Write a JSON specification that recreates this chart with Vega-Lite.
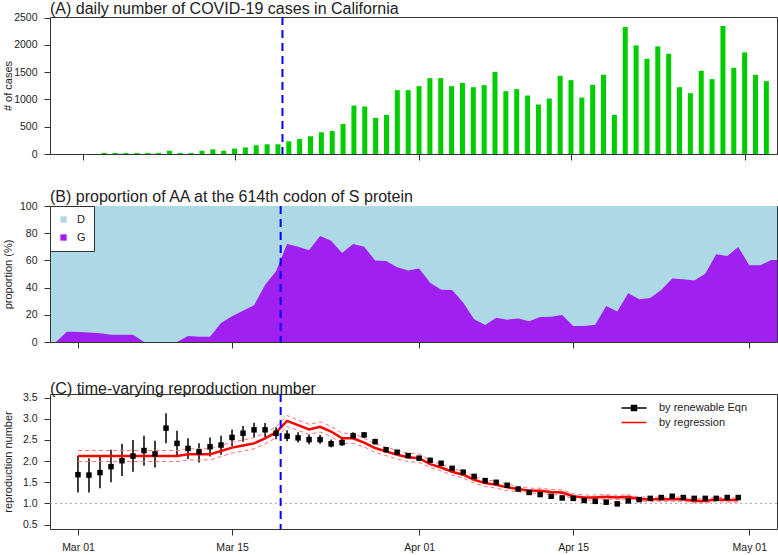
{
  "$schema": "https://vega.github.io/schema/vega-lite/v6.json",
  "padding": {"left": 1, "top": 0, "right": 1, "bottom": 2},
  "config": {
    "font": "Liberation Sans",
    "view": {"stroke": "#333", "strokeWidth": 1},
    "axis": {"domain": false, "grid": false, "tickColor": "#333", "tickSize": 6, "tickWidth": 1, "labelOverlap": false,
      "labelFont": "Liberation Sans", "labelFontSize": 10.5, "labelColor": "#222",
      "titleFont": "Liberation Sans", "titleFontSize": 11, "titleFontWeight": "normal", "titleColor": "#222"},
    "axisQuantitative": {"labelOverlap": false},
    "axisY": {"minExtent": 33, "maxExtent": 33, "titlePadding": 4, "labelPadding": 7, "labelOverlap": false},
    "axisX": {"labelPadding": 7},
    "title": {"font": "Liberation Sans", "fontSize": 16, "fontWeight": "normal", "anchor": "start", "frame": "group", "color": "#222", "offset": -4, "baseline": "alphabetic"}
  },
  "datasets": {
    "marker": [{"date": "2020-03-19T10:00:00Z"}],
    "cases": [
      {"date": "2020-03-03", "cases": 20}, {"date": "2020-03-04", "cases": 20}, {"date": "2020-03-05", "cases": 20},
      {"date": "2020-03-06", "cases": 20}, {"date": "2020-03-07", "cases": 20}, {"date": "2020-03-08", "cases": 20},
      {"date": "2020-03-09", "cases": 60}, {"date": "2020-03-10", "cases": 20}, {"date": "2020-03-11", "cases": 20},
      {"date": "2020-03-12", "cases": 60}, {"date": "2020-03-13", "cases": 85}, {"date": "2020-03-14", "cases": 60},
      {"date": "2020-03-15", "cases": 100}, {"date": "2020-03-16", "cases": 120}, {"date": "2020-03-17", "cases": 160},
      {"date": "2020-03-18", "cases": 178}, {"date": "2020-03-19", "cases": 178}, {"date": "2020-03-20", "cases": 233},
      {"date": "2020-03-21", "cases": 276}, {"date": "2020-03-22", "cases": 325}, {"date": "2020-03-23", "cases": 398},
      {"date": "2020-03-24", "cases": 423}, {"date": "2020-03-25", "cases": 551}, {"date": "2020-03-26", "cases": 888},
      {"date": "2020-03-27", "cases": 870}, {"date": "2020-03-28", "cases": 662}, {"date": "2020-03-29", "cases": 717},
      {"date": "2020-03-30", "cases": 1170}, {"date": "2020-03-31", "cases": 1170}, {"date": "2020-04-01", "cases": 1244},
      {"date": "2020-04-02", "cases": 1391}, {"date": "2020-04-03", "cases": 1391}, {"date": "2020-04-04", "cases": 1244},
      {"date": "2020-04-05", "cases": 1305}, {"date": "2020-04-06", "cases": 1225}, {"date": "2020-04-07", "cases": 1262},
      {"date": "2020-04-08", "cases": 1507}, {"date": "2020-04-09", "cases": 1152}, {"date": "2020-04-10", "cases": 1189},
      {"date": "2020-04-11", "cases": 1072}, {"date": "2020-04-12", "cases": 907}, {"date": "2020-04-13", "cases": 1017},
      {"date": "2020-04-14", "cases": 1434}, {"date": "2020-04-15", "cases": 1354}, {"date": "2020-04-16", "cases": 1035},
      {"date": "2020-04-17", "cases": 1268}, {"date": "2020-04-18", "cases": 1452}, {"date": "2020-04-19", "cases": 717},
      {"date": "2020-04-20", "cases": 2328}, {"date": "2020-04-21", "cases": 1991}, {"date": "2020-04-22", "cases": 1746},
      {"date": "2020-04-23", "cases": 1973}, {"date": "2020-04-24", "cases": 1838}, {"date": "2020-04-25", "cases": 1225},
      {"date": "2020-04-26", "cases": 1115}, {"date": "2020-04-27", "cases": 1526}, {"date": "2020-04-28", "cases": 1372},
      {"date": "2020-04-29", "cases": 2347}, {"date": "2020-04-30", "cases": 1581}, {"date": "2020-05-01", "cases": 1863},
      {"date": "2020-05-02", "cases": 1452}, {"date": "2020-05-03", "cases": 1336}
    ],
    "prop": [
      {"date": "2020-02-28", "G": 0, "D": 100}, {"date": "2020-02-29", "G": 7.6, "D": 92.4}, {"date": "2020-03-01", "G": 7.4, "D": 92.6},
      {"date": "2020-03-02", "G": 6.9, "D": 93.1}, {"date": "2020-03-03", "G": 6.5, "D": 93.5}, {"date": "2020-03-04", "G": 5.4, "D": 94.6},
      {"date": "2020-03-05", "G": 5.4, "D": 94.6}, {"date": "2020-03-06", "G": 5.4, "D": 94.6}, {"date": "2020-03-07", "G": 0, "D": 100},
      {"date": "2020-03-08", "G": 0, "D": 100}, {"date": "2020-03-09", "G": 0, "D": 100}, {"date": "2020-03-10", "G": 0, "D": 100},
      {"date": "2020-03-11", "G": 4.4, "D": 95.6}, {"date": "2020-03-12", "G": 3.8, "D": 96.2}, {"date": "2020-03-13", "G": 3.8, "D": 96.2},
      {"date": "2020-03-14", "G": 14, "D": 86}, {"date": "2020-03-15", "G": 19, "D": 81}, {"date": "2020-03-16", "G": 23, "D": 77},
      {"date": "2020-03-17", "G": 27, "D": 73}, {"date": "2020-03-18", "G": 42, "D": 58}, {"date": "2020-03-19", "G": 52, "D": 48},
      {"date": "2020-03-20", "G": 72, "D": 28}, {"date": "2020-03-21", "G": 70, "D": 30}, {"date": "2020-03-22", "G": 67.5, "D": 32.5},
      {"date": "2020-03-23", "G": 78, "D": 22}, {"date": "2020-03-24", "G": 74.5, "D": 25.5}, {"date": "2020-03-25", "G": 65.5, "D": 34.5},
      {"date": "2020-03-26", "G": 72, "D": 28}, {"date": "2020-03-27", "G": 70, "D": 30}, {"date": "2020-03-28", "G": 60, "D": 40},
      {"date": "2020-03-29", "G": 59.5, "D": 40.5}, {"date": "2020-03-30", "G": 55, "D": 45}, {"date": "2020-03-31", "G": 52.5, "D": 47.5},
      {"date": "2020-04-01", "G": 54, "D": 46}, {"date": "2020-04-02", "G": 43.5, "D": 56.5}, {"date": "2020-04-03", "G": 38.5, "D": 61.5},
      {"date": "2020-04-04", "G": 38.2, "D": 61.8}, {"date": "2020-04-05", "G": 29, "D": 71}, {"date": "2020-04-06", "G": 16.7, "D": 83.3},
      {"date": "2020-04-07", "G": 12.5, "D": 87.5}, {"date": "2020-04-08", "G": 17.9, "D": 82.1}, {"date": "2020-04-09", "G": 16.4, "D": 83.6},
      {"date": "2020-04-10", "G": 17.2, "D": 82.8}, {"date": "2020-04-11", "G": 15.2, "D": 84.8}, {"date": "2020-04-12", "G": 18.4, "D": 81.6},
      {"date": "2020-04-13", "G": 18.6, "D": 81.4}, {"date": "2020-04-14", "G": 19.9, "D": 80.1}, {"date": "2020-04-15", "G": 11.8, "D": 88.2},
      {"date": "2020-04-16", "G": 11.8, "D": 88.2}, {"date": "2020-04-17", "G": 12.7, "D": 87.3}, {"date": "2020-04-18", "G": 26.5, "D": 73.5},
      {"date": "2020-04-19", "G": 22.5, "D": 77.5}, {"date": "2020-04-20", "G": 35.8, "D": 64.2}, {"date": "2020-04-21", "G": 31.4, "D": 68.6},
      {"date": "2020-04-22", "G": 32.4, "D": 67.6}, {"date": "2020-04-23", "G": 38.2, "D": 61.8}, {"date": "2020-04-24", "G": 46.6, "D": 53.4},
      {"date": "2020-04-25", "G": 46.1, "D": 53.9}, {"date": "2020-04-26", "G": 45.3, "D": 54.7}, {"date": "2020-04-27", "G": 50.2, "D": 49.8},
      {"date": "2020-04-28", "G": 64.5, "D": 35.5}, {"date": "2020-04-29", "G": 63.2, "D": 36.8}, {"date": "2020-04-30", "G": 69.9, "D": 30.1},
      {"date": "2020-05-01", "G": 56.4, "D": 43.6}, {"date": "2020-05-02", "G": 56.4, "D": 43.6}, {"date": "2020-05-03", "G": 60.3, "D": 39.7},
      {"date": "2020-05-04", "G": 60.3, "D": 39.7}
    ],
    "rt": [
      {"date": "2020-03-01", "rt": 1.68, "rtlo": 1.26, "rthi": 2.12, "fit": 2.12, "fitlo": 1.99, "fithi": 2.25},
      {"date": "2020-03-02", "rt": 1.67, "rtlo": 1.26, "rthi": 2.07, "fit": 2.12, "fitlo": 1.99, "fithi": 2.25},
      {"date": "2020-03-03", "rt": 1.73, "rtlo": 1.36, "rthi": 2.10, "fit": 2.12, "fitlo": 1.99, "fithi": 2.25},
      {"date": "2020-03-04", "rt": 1.87, "rtlo": 1.50, "rthi": 2.27, "fit": 2.12, "fitlo": 1.99, "fithi": 2.25},
      {"date": "2020-03-05", "rt": 2.01, "rtlo": 1.65, "rthi": 2.41, "fit": 2.12, "fitlo": 1.99, "fithi": 2.25},
      {"date": "2020-03-06", "rt": 2.12, "rtlo": 1.75, "rthi": 2.50, "fit": 2.12, "fitlo": 1.99, "fithi": 2.25},
      {"date": "2020-03-07", "rt": 2.25, "rtlo": 1.89, "rthi": 2.60, "fit": 2.12, "fitlo": 1.99, "fithi": 2.25},
      {"date": "2020-03-08", "rt": 2.17, "rtlo": 1.85, "rthi": 2.48, "fit": 2.12, "fitlo": 1.99, "fithi": 2.25},
      {"date": "2020-03-09", "rt": 2.78, "rtlo": 2.42, "rthi": 3.13, "fit": 2.12, "fitlo": 1.99, "fithi": 2.25},
      {"date": "2020-03-10", "rt": 2.42, "rtlo": 2.13, "rthi": 2.72, "fit": 2.12, "fitlo": 1.99, "fithi": 2.25},
      {"date": "2020-03-11", "rt": 2.30, "rtlo": 2.05, "rthi": 2.54, "fit": 2.16, "fitlo": 2.03, "fithi": 2.29},
      {"date": "2020-03-12", "rt": 2.22, "rtlo": 1.97, "rthi": 2.42, "fit": 2.16, "fitlo": 2.03, "fithi": 2.29},
      {"date": "2020-03-13", "rt": 2.34, "rtlo": 2.11, "rthi": 2.56, "fit": 2.16, "fitlo": 2.03, "fithi": 2.29},
      {"date": "2020-03-14", "rt": 2.38, "rtlo": 2.15, "rthi": 2.60, "fit": 2.24, "fitlo": 2.11, "fithi": 2.37},
      {"date": "2020-03-15", "rt": 2.56, "rtlo": 2.36, "rthi": 2.75, "fit": 2.32, "fitlo": 2.19, "fithi": 2.45},
      {"date": "2020-03-16", "rt": 2.66, "rtlo": 2.46, "rthi": 2.83, "fit": 2.37, "fitlo": 2.24, "fithi": 2.50},
      {"date": "2020-03-17", "rt": 2.74, "rtlo": 2.56, "rthi": 2.91, "fit": 2.42, "fitlo": 2.29, "fithi": 2.55},
      {"date": "2020-03-18", "rt": 2.74, "rtlo": 2.57, "rthi": 2.90, "fit": 2.54, "fitlo": 2.41, "fithi": 2.67},
      {"date": "2020-03-19", "rt": 2.66, "rtlo": 2.52, "rthi": 2.80, "fit": 2.68, "fitlo": 2.55, "fithi": 2.81},
      {"date": "2020-03-20", "rt": 2.59, "rtlo": 2.47, "rthi": 2.73, "fit": 2.95, "fitlo": 2.82, "fithi": 3.08},
      {"date": "2020-03-21", "rt": 2.55, "rtlo": 2.44, "rthi": 2.68, "fit": 2.85, "fitlo": 2.73, "fithi": 2.97},
      {"date": "2020-03-22", "rt": 2.51, "rtlo": 2.40, "rthi": 2.63, "fit": 2.75, "fitlo": 2.63, "fithi": 2.87},
      {"date": "2020-03-23", "rt": 2.51, "rtlo": 2.41, "rthi": 2.62, "fit": 2.81, "fitlo": 2.69, "fithi": 2.93},
      {"date": "2020-03-24", "rt": 2.41, "rtlo": 2.33, "rthi": 2.51, "fit": 2.70, "fitlo": 2.58, "fithi": 2.82},
      {"date": "2020-03-25", "rt": 2.44, "rtlo": 2.36, "rthi": 2.53, "fit": 2.54, "fitlo": 2.42, "fithi": 2.66},
      {"date": "2020-03-26", "rt": 2.60, "rtlo": 2.52, "rthi": 2.68, "fit": 2.54, "fitlo": 2.42, "fithi": 2.66},
      {"date": "2020-03-27", "rt": 2.62, "rtlo": 2.55, "rthi": 2.69, "fit": 2.44, "fitlo": 2.34, "fithi": 2.54},
      {"date": "2020-03-28", "rt": 2.46, "rtlo": 2.40, "rthi": 2.53, "fit": 2.31, "fitlo": 2.21, "fithi": 2.41},
      {"date": "2020-03-29", "rt": 2.27, "rtlo": 2.21, "rthi": 2.33, "fit": 2.23, "fitlo": 2.13, "fithi": 2.33},
      {"date": "2020-03-30", "rt": 2.21, "rtlo": 2.16, "rthi": 2.26, "fit": 2.15, "fitlo": 2.05, "fithi": 2.25},
      {"date": "2020-03-31", "rt": 2.13, "rtlo": 2.08, "rthi": 2.18, "fit": 2.09, "fitlo": 1.99, "fithi": 2.19},
      {"date": "2020-04-01", "rt": 2.07, "rtlo": 2.03, "rthi": 2.11, "fit": 2.07, "fitlo": 1.97, "fithi": 2.17},
      {"date": "2020-04-02", "rt": 2.02, "rtlo": 1.98, "rthi": 2.06, "fit": 1.93, "fitlo": 1.85, "fithi": 2.01},
      {"date": "2020-04-03", "rt": 1.95, "rtlo": 1.91, "rthi": 1.99, "fit": 1.85, "fitlo": 1.77, "fithi": 1.93},
      {"date": "2020-04-04", "rt": 1.83, "rtlo": 1.79, "rthi": 1.87, "fit": 1.75, "fitlo": 1.67, "fithi": 1.83},
      {"date": "2020-04-05", "rt": 1.74, "rtlo": 1.70, "rthi": 1.78, "fit": 1.68, "fitlo": 1.60, "fithi": 1.76},
      {"date": "2020-04-06", "rt": 1.64, "rtlo": 1.61, "rthi": 1.67, "fit": 1.56, "fitlo": 1.48, "fithi": 1.64},
      {"date": "2020-04-07", "rt": 1.54, "rtlo": 1.51, "rthi": 1.57, "fit": 1.48, "fitlo": 1.40, "fithi": 1.56},
      {"date": "2020-04-08", "rt": 1.50, "rtlo": 1.47, "rthi": 1.53, "fit": 1.44, "fitlo": 1.36, "fithi": 1.52},
      {"date": "2020-04-09", "rt": 1.43, "rtlo": 1.40, "rthi": 1.46, "fit": 1.38, "fitlo": 1.30, "fithi": 1.46},
      {"date": "2020-04-10", "rt": 1.34, "rtlo": 1.31, "rthi": 1.37, "fit": 1.34, "fitlo": 1.28, "fithi": 1.40},
      {"date": "2020-04-11", "rt": 1.26, "rtlo": 1.23, "rthi": 1.29, "fit": 1.30, "fitlo": 1.24, "fithi": 1.36},
      {"date": "2020-04-12", "rt": 1.21, "rtlo": 1.18, "rthi": 1.24, "fit": 1.30, "fitlo": 1.24, "fithi": 1.36},
      {"date": "2020-04-13", "rt": 1.17, "rtlo": 1.14, "rthi": 1.20, "fit": 1.27, "fitlo": 1.21, "fithi": 1.33},
      {"date": "2020-04-14", "rt": 1.13, "rtlo": 1.10, "rthi": 1.16, "fit": 1.26, "fitlo": 1.20, "fithi": 1.32},
      {"date": "2020-04-15", "rt": 1.12, "rtlo": 1.09, "rthi": 1.15, "fit": 1.17, "fitlo": 1.11, "fithi": 1.23},
      {"date": "2020-04-16", "rt": 1.07, "rtlo": 1.04, "rthi": 1.10, "fit": 1.14, "fitlo": 1.08, "fithi": 1.20},
      {"date": "2020-04-17", "rt": 1.05, "rtlo": 1.02, "rthi": 1.08, "fit": 1.14, "fitlo": 1.08, "fithi": 1.20},
      {"date": "2020-04-18", "rt": 1.03, "rtlo": 1.00, "rthi": 1.06, "fit": 1.16, "fitlo": 1.11, "fithi": 1.21},
      {"date": "2020-04-19", "rt": 0.99, "rtlo": 0.95, "rthi": 1.03, "fit": 1.14, "fitlo": 1.09, "fithi": 1.19},
      {"date": "2020-04-20", "rt": 1.06, "rtlo": 1.02, "rthi": 1.10, "fit": 1.16, "fitlo": 1.11, "fithi": 1.21},
      {"date": "2020-04-21", "rt": 1.09, "rtlo": 1.06, "rthi": 1.12, "fit": 1.10, "fitlo": 1.05, "fithi": 1.15},
      {"date": "2020-04-22", "rt": 1.12, "rtlo": 1.09, "rthi": 1.15, "fit": 1.10, "fitlo": 1.05, "fithi": 1.15},
      {"date": "2020-04-23", "rt": 1.14, "rtlo": 1.11, "rthi": 1.17, "fit": 1.10, "fitlo": 1.05, "fithi": 1.15},
      {"date": "2020-04-24", "rt": 1.17, "rtlo": 1.14, "rthi": 1.20, "fit": 1.10, "fitlo": 1.05, "fithi": 1.15},
      {"date": "2020-04-25", "rt": 1.14, "rtlo": 1.11, "rthi": 1.17, "fit": 1.10, "fitlo": 1.05, "fithi": 1.15},
      {"date": "2020-04-26", "rt": 1.12, "rtlo": 1.09, "rthi": 1.15, "fit": 1.06, "fitlo": 1.01, "fithi": 1.11},
      {"date": "2020-04-27", "rt": 1.12, "rtlo": 1.09, "rthi": 1.15, "fit": 1.06, "fitlo": 1.01, "fithi": 1.11},
      {"date": "2020-04-28", "rt": 1.12, "rtlo": 1.09, "rthi": 1.15, "fit": 1.10, "fitlo": 1.05, "fithi": 1.15},
      {"date": "2020-04-29", "rt": 1.14, "rtlo": 1.11, "rthi": 1.17, "fit": 1.08, "fitlo": 1.03, "fithi": 1.13},
      {"date": "2020-04-30", "rt": 1.14, "rtlo": 1.11, "rthi": 1.17, "fit": 1.08, "fitlo": 1.03, "fithi": 1.13}
    ]
  },
  "vconcat": [
    {
      "width": 727, "height": 137,
      "title": {"text": "(A) daily number of COVID-19 cases in California"},
      "layer": [
        {
          "data": {"name": "cases"},
          "mark": {"type": "bar", "color": "#00CD00", "size": 5},
          "encoding": {
            "x": {"field": "date", "type": "temporal",
              "scale": {"type": "utc", "domain": [{"year": 2020, "month": 2, "date": 27, "hours": 11, "utc": true}, {"year": 2020, "month": 5, "date": 3, "hours": 12, "minutes": 30, "utc": true}]},
              "axis": {"title": null, "labels": false, "values": [{"year": 2020, "month": 3, "date": 1, "utc": true}, {"year": 2020, "month": 3, "date": 15, "utc": true}, {"year": 2020, "month": 4, "date": 1, "utc": true}, {"year": 2020, "month": 4, "date": 15, "utc": true}, {"year": 2020, "month": 5, "date": 1, "utc": true}]}},
            "y": {"field": "cases", "type": "quantitative", "scale": {"domain": [0, 2512], "nice": false},
              "axis": {"title": "# of cases", "format": "d", "values": [0, 500, 1000, 1500, 2000, 2500]}}
          }
        },
        {
          "data": {"name": "marker"},
          "mark": {"type": "rule", "color": "#0000FF", "strokeWidth": 2, "strokeDash": [8, 5]},
          "encoding": {"x": {"field": "date", "type": "temporal"}}
        }
      ]
    },
    {
      "width": 727, "height": 136,
      "title": {"text": "(B) proportion of AA at the 614th codon of S protein"},
      "view": {"fill": "#ADD8E6"},
      "layer": [
        {
          "data": {"name": "prop"},
          "transform": [{"fold": ["D", "G"], "as": ["allele", "pct"]}],
          "mark": {"type": "area", "clip": true, "opacity": 1, "interpolate": "linear"},
          "encoding": {
            "x": {"field": "date", "type": "temporal",
              "scale": {"type": "utc", "domain": [{"year": 2020, "month": 2, "date": 27, "hours": 11, "utc": true}, {"year": 2020, "month": 5, "date": 3, "hours": 12, "minutes": 30, "utc": true}]},
              "axis": {"title": null, "labels": false, "values": [{"year": 2020, "month": 3, "date": 1, "utc": true}, {"year": 2020, "month": 3, "date": 15, "utc": true}, {"year": 2020, "month": 4, "date": 1, "utc": true}, {"year": 2020, "month": 4, "date": 15, "utc": true}, {"year": 2020, "month": 5, "date": 1, "utc": true}]}},
            "y": {"field": "pct", "type": "quantitative", "stack": "zero", "scale": {"domain": [0, 100], "nice": false},
              "axis": {"title": "proportion (%)", "values": [0, 20, 40, 60, 80, 100]}},
            "color": {"field": "allele", "type": "nominal", "scale": {"domain": ["D", "G"], "range": ["#ADD8E6", "#A020F0"]},
              "legend": {"title": null, "orient": "top-left", "offset": 0, "padding": 8, "strokeColor": "#333", "fillColor": "white", "cornerRadius": 0,
                "symbolType": "square", "symbolSize": 40, "symbolStrokeWidth": 0, "labelFontSize": 11, "labelFont": "Liberation Sans", "labelColor": "#222", "labelOffset": 8, "rowPadding": 6}},
            "order": {"field": "allele", "sort": "descending"}
          }
        },
        {
          "data": {"name": "marker"},
          "mark": {"type": "rule", "color": "#0000FF", "strokeWidth": 2, "strokeDash": [8, 5]},
          "encoding": {"x": {"field": "date", "type": "temporal"}}
        }
      ]
    },
    {
      "width": 727, "height": 135,
      "title": {"text": "(C) time-varying reproduction number"},
      "encoding": {
        "x": {"field": "date", "type": "temporal",
          "scale": {"type": "utc", "domain": [{"year": 2020, "month": 2, "date": 27, "hours": 11, "utc": true}, {"year": 2020, "month": 5, "date": 3, "hours": 12, "minutes": 30, "utc": true}]},
          "axis": {"title": null, "format": "%b %d", "values": [{"year": 2020, "month": 3, "date": 1, "utc": true}, {"year": 2020, "month": 3, "date": 15, "utc": true}, {"year": 2020, "month": 4, "date": 1, "utc": true}, {"year": 2020, "month": 4, "date": 15, "utc": true}, {"year": 2020, "month": 5, "date": 1, "utc": true}]}},
        "y": {"type": "quantitative", "scale": {"domain": [0.396, 3.587], "nice": false, "zero": false},
          "axis": {"title": "reproduction number", "values": [0.5, 1, 1.5, 2, 2.5, 3, 3.5], "labelExpr": "format(datum.value, '.1f')", "labelOverlap": false, "labelSeparation": -15}}
      },
      "layer": [
        {
          "data": {"values": [{"ref": 1}]},
          "mark": {"type": "rule", "color": "#aaaaaa", "strokeWidth": 1, "strokeDash": [2, 3]},
          "encoding": {"x": null, "y": {"field": "ref"}}
        },
        {
          "data": {"name": "rt"},
          "mark": {"type": "rule", "color": "black", "strokeWidth": 1.5},
          "encoding": {"y": {"field": "rtlo"}, "y2": {"field": "rthi"}}
        },
        {
          "data": {"name": "rt"},
          "mark": {"type": "line", "color": "#FF7070", "strokeWidth": 1, "strokeDash": [4, 3]},
          "encoding": {"y": {"field": "fitlo"}}
        },
        {
          "data": {"name": "rt"},
          "mark": {"type": "line", "color": "#FF7070", "strokeWidth": 1, "strokeDash": [4, 3]},
          "encoding": {"y": {"field": "fithi"}}
        },
        {
          "data": {"name": "rt"},
          "mark": {"type": "line", "strokeWidth": 2.5},
          "encoding": {"y": {"field": "fit"}, "color": {"datum": "by regression"}}
        },
        {
          "data": {"name": "rt"},
          "mark": {"type": "square", "size": 30, "filled": true, "opacity": 1},
          "encoding": {"y": {"field": "rt"},
            "color": {"datum": "by renewable Eqn", "scale": {"domain": ["by renewable Eqn", "by regression"], "range": ["black", "red"]},
              "legend": {"title": null, "orient": "none", "legendX": 577, "legendY": 7, "padding": 0,
                "labelFontSize": 11, "labelFont": "Liberation Sans", "labelColor": "#222", "labelOffset": 18, "rowPadding": 1.5, "symbolSize": 156, "symbolOpacity": 1,
                "encoding": {"symbols": {
                  "shape": {"value": {"expr": "datum.value === 'by regression' ? 'M-2,0H2' : 'M-2,0H2M-0.4,-0.4H0.4V0.4H-0.4Z'"}},
                  "fill": {"value": {"expr": "datum.value === 'by regression' ? 'transparent' : 'black'"}},
                  "stroke": {"value": {"expr": "datum.value === 'by regression' ? 'red' : 'black'"}},
                  "strokeWidth": {"value": 1.5}
                }}}}
          }
        },
        {
          "data": {"name": "marker"},
          "mark": {"type": "rule", "color": "#0000FF", "strokeWidth": 2, "strokeDash": [8, 5]},
          "encoding": {"y": null}
        }
      ]
    }
  ],
  "spacing": 52,
  "bounds": "flush",
  "resolve": {"scale": {"color": "independent"}, "legend": {"color": "independent"}}
}
